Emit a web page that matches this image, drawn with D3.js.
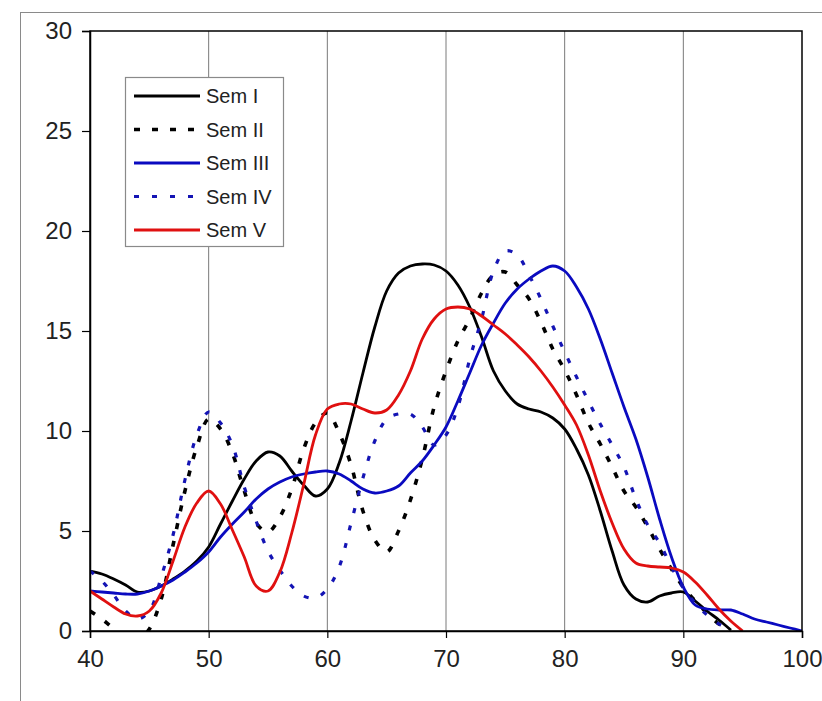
<!DOCTYPE html>
<html>
<head>
<meta charset="utf-8">
<script src="https://cdn.jsdelivr.net/npm/d3@7/dist/d3.min.js"></script>
<style>
  body { margin: 0; background: #fff; }
  text { font-family: Arial, "Liberation Sans", sans-serif; }
</style>
</head>
<body>
<svg id="graph"></svg>
<script>
// x positions shared by every series (one reading per unit)
var xValues = [40,41,42,43,44,45,46,47,48,49,50,51,52,53,54,55,56,57,58,59,60,
               61,62,63,64,65,66,67,68,69,70,71,72,73,74,75,76,77,78,79,80,
               81,82,83,84,85,86,87,88,89,90,91,92,93,94,95,96,97,98,99,100]

var semI = [3.0,2.85,2.6,2.3,1.95,2.0,2.25,2.6,3.0,3.5,4.2,5.35,6.5,7.6,8.5,8.95,8.75,8.0,7.3,6.75,7.1,
            8.4,10.5,12.9,15.2,17.0,17.9,18.25,18.35,18.3,18.0,17.3,16.2,14.7,13.0,12.0,11.35,11.1,10.95,10.65,10.1,
            9.1,7.8,6.0,4.0,2.3,1.6,1.45,1.75,1.9,1.95,1.5,1.0,0.55,0.05]

var semII = [1.0,0.6,0.1,-0.5,-0.5,0.1,1.6,4.3,7.0,9.2,10.6,10.1,8.9,7.0,5.4,4.95,5.7,7.1,9.1,10.4,10.9,
             9.9,8.3,6.0,4.55,3.95,5.0,6.55,8.6,11.2,13.0,14.5,15.6,16.9,17.8,17.95,17.3,16.6,15.45,14.1,13.05,
             11.8,10.4,9.35,8.2,7.0,6.2,5.2,4.1,3.1,2.2,1.5,0.9,0.35,0.0]

var semIII = [2.0,1.95,1.9,1.85,1.85,2.0,2.25,2.55,2.95,3.4,3.95,4.7,5.35,5.95,6.6,7.1,7.45,7.7,7.85,7.95,8.0,
              7.85,7.5,7.1,6.9,7.0,7.25,7.9,8.5,9.3,10.2,11.5,12.9,14.3,15.4,16.4,17.1,17.6,18.0,18.25,18.0,
              17.2,16.1,14.6,12.9,11.2,9.6,7.7,5.6,3.7,2.2,1.3,1.1,1.05,1.05,0.85,0.6,0.45,0.3,0.15,0.0]

var semIV = [3.0,2.5,1.8,1.0,0.6,1.0,2.7,4.8,7.55,9.8,10.95,10.4,9.3,7.2,5.5,4.0,3.05,2.25,1.75,1.65,2.1,
             3.2,5.4,7.65,9.5,10.6,10.85,10.85,10.2,9.3,9.8,11.2,13.6,15.6,18.0,19.0,18.8,17.8,16.6,15.25,13.95,
             12.7,11.5,10.35,9.3,8.2,6.6,5.3,4.4,3.2,2.15,1.4,0.8,0.35,0.0]

var semV = [2.0,1.6,1.2,0.85,0.75,1.0,1.9,3.5,5.2,6.4,7.0,6.35,5.05,3.7,2.25,2.0,2.95,4.9,7.3,9.8,11.1,
            11.35,11.35,11.1,10.9,11.05,11.8,13.0,14.6,15.6,16.1,16.2,16.1,15.75,15.3,14.85,14.3,13.7,13.0,12.2,11.3,
            10.3,8.8,7.0,5.4,4.1,3.4,3.25,3.2,3.15,2.95,2.45,1.8,1.1,0.5,0.0]

var seriesNames = ["Sem I", "Sem II", "Sem III", "Sem IV", "Sem V"]
var seriesValues = [semI, semII, semIII, semIV, semV]
var seriesColors = ["#000000", "#000000", "#0a0ac0", "#1414b4", "#e01010"]
var seriesDash = [null, "6,12", null, "5,13", null]
var seriesWidth = [2.8, 3.6, 2.8, 3.2, 2.8]

var xTicks = [40,50,60,70,80,90,100]
var yTicks = [0,5,10,15,20,25,30]

var initgraph = function()
{
    var screen = {width: 822, height: 701}
    var plot = {left: 90, right: 802, top: 31, bottom: 631}

    var svg = d3.select("#graph")
        .attr("width", screen.width)
        .attr("height", screen.height)

    // outer chart border
    svg.append("rect")
        .attr("x", 20.5).attr("y", 12.5)
        .attr("width", 900).attr("height", 800)
        .attr("fill", "none").attr("stroke", "#8a8a8a").attr("stroke-width", 1)

    var xScale = d3.scaleLinear().domain([40, 100]).range([plot.left, plot.right])
    var yScale = d3.scaleLinear().domain([0, 30]).range([plot.bottom, plot.top])

    // vertical gridlines
    svg.append("g").selectAll("line")
        .data(xTicks.slice(1, -1))
        .enter().append("line")
        .attr("x1", function(d) { return xScale(d) })
        .attr("x2", function(d) { return xScale(d) })
        .attr("y1", plot.top).attr("y2", plot.bottom)
        .attr("stroke", "#7a7a7a").attr("stroke-width", 1)

    svg.append("defs").append("clipPath").attr("id", "clip")
        .append("rect")
        .attr("x", plot.left).attr("y", plot.top - 5)
        .attr("width", plot.right - plot.left + 5)
        .attr("height", plot.bottom - plot.top + 5)

    var line = d3.line()
        .x(function(d, i) { return xScale(xValues[i]) })
        .y(function(d) { return yScale(d) })
        .curve(d3.curveCatmullRom.alpha(0.5))

    var lines = svg.append("g").attr("clip-path", "url(#clip)")
    seriesValues.forEach(function(vals, k)
    {
        lines.append("path")
            .datum(vals)
            .attr("d", line)
            .attr("fill", "none")
            .attr("stroke", seriesColors[k])
            .attr("stroke-width", seriesWidth[k])
            .attr("stroke-dasharray", seriesDash[k])
            .attr("stroke-linejoin", "round")
    })

    // plot frame
    svg.append("rect")
        .attr("x", plot.left).attr("y", plot.top)
        .attr("width", plot.right - plot.left).attr("height", plot.bottom - plot.top)
        .attr("fill", "none").attr("stroke", "#000").attr("stroke-width", 1.5)

    var xAxis = svg.append("g")
        .attr("transform", "translate(0," + plot.bottom + ")")
        .call(d3.axisBottom(xScale).tickValues(xTicks).tickSize(7).tickPadding(12))
    var yAxis = svg.append("g")
        .attr("transform", "translate(" + plot.left + ",0)")
        .call(d3.axisLeft(yScale).tickValues(yTicks).tickSize(8).tickPadding(10))

    ;[xAxis, yAxis].forEach(function(ax)
    {
        ax.select(".domain").attr("stroke", "#000").attr("stroke-width", 1.5)
        ax.selectAll(".tick line").attr("stroke", "#000").attr("stroke-width", 1.2)
        ax.selectAll(".tick text")
            .attr("font-family", "Arial, 'Liberation Sans', sans-serif")
            .attr("font-size", 24).attr("fill", "#222")
    })

    // legend
    var legend = svg.append("g")
    legend.append("rect")
        .attr("x", 125.5).attr("y", 77.5).attr("width", 158).attr("height", 169)
        .attr("fill", "#fff").attr("stroke", "#8a8a8a").attr("stroke-width", 1.2)

    seriesNames.forEach(function(name, k)
    {
        var y = 96 + k * 33.5
        legend.append("line")
            .attr("x1", 134).attr("x2", 200).attr("y1", y).attr("y2", y)
            .attr("stroke", seriesColors[k])
            .attr("stroke-width", seriesWidth[k])
            .attr("stroke-dasharray", seriesDash[k])
        legend.append("text")
            .attr("x", 206).attr("y", y)
            .attr("dy", "0.36em")
            .attr("font-size", 20).attr("fill", "#222")
            .text(name)
    })
}

initgraph()
</script>
</body>
</html>
